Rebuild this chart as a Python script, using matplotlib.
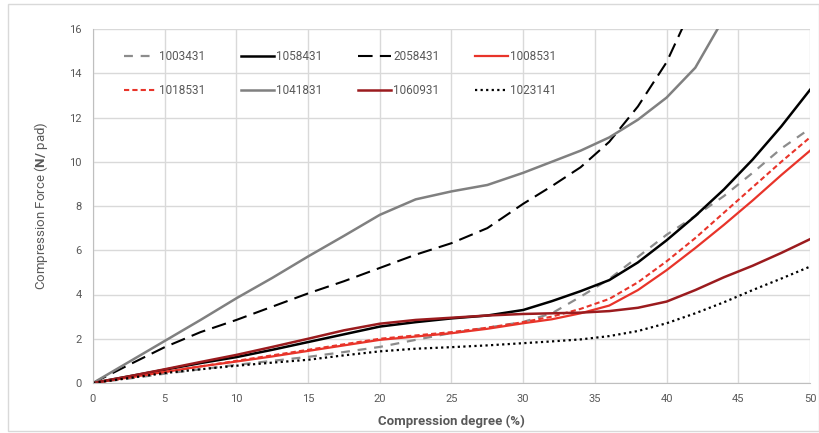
import matplotlib
matplotlib.use('Agg')
import matplotlib.pyplot as plt
from matplotlib.patches import Rectangle

plt.rcParams['font.family'] = ['Roboto', 'DejaVu Sans']
plt.rcParams['mathtext.fontset'] = 'custom'
plt.rcParams['mathtext.bf'] = 'Roboto:bold'
plt.rcParams['mathtext.rm'] = 'Roboto'

# compression degree (%)
x = [0, 2.5, 5, 7.5, 10, 12.5, 15, 17.5, 20, 22.5, 25, 27.5,
     30, 32, 34, 36, 38, 40, 42, 44, 46, 48, 50]

# compression force (N/pad) per sample
f_1003431 = [0, 0.2, 0.42, 0.62, 0.82, 1.0, 1.18, 1.4, 1.63, 1.95, 2.26, 2.5,
             2.76, 3.15, 3.9, 4.7, 5.7, 6.7, 7.55, 8.45, 9.5, 10.6, 11.5]
f_1058431 = [0, 0.3, 0.6, 0.9, 1.17, 1.5, 1.85, 2.2, 2.55, 2.75, 2.92, 3.05,
             3.3, 3.7, 4.15, 4.65, 5.45, 6.45, 7.55, 8.75, 10.1, 11.6, 13.25]
f_2058431 = [0, 0.82, 1.62, 2.3, 2.85, 3.45, 4.05, 4.6, 5.2, 5.8, 6.32, 7.0,
             8.1, 8.9, 9.75, 10.9, 12.5, 14.5, 17.3, 20.0, 23.0, 26.0, 29.0]
f_1008531 = [0, 0.25, 0.5, 0.75, 0.97, 1.2, 1.45, 1.7, 1.95, 2.1, 2.25, 2.45,
             2.7, 2.88, 3.15, 3.5, 4.2, 5.1, 6.1, 7.15, 8.25, 9.4, 10.5]
f_1018531 = [0, 0.25, 0.5, 0.75, 1.0, 1.25, 1.5, 1.75, 2.0, 2.15, 2.3, 2.5,
             2.75, 3.0, 3.35, 3.8, 4.55, 5.5, 6.55, 7.7, 8.85, 10.0, 11.1]
f_1041831 = [0, 0.95, 1.9, 2.85, 3.83, 4.75, 5.72, 6.65, 7.6, 8.3, 8.66, 8.95,
             9.5, 10.0, 10.5, 11.1, 11.9, 12.9, 14.25, 16.5, 19.0, 22.0, 25.0]
f_1060931 = [0, 0.3, 0.62, 0.95, 1.27, 1.63, 2.0, 2.38, 2.68, 2.85, 2.95, 3.05,
             3.12, 3.15, 3.18, 3.25, 3.4, 3.68, 4.2, 4.78, 5.3, 5.88, 6.5]
f_1023141 = [0, 0.22, 0.45, 0.62, 0.78, 0.92, 1.05, 1.25, 1.43, 1.55, 1.62, 1.7,
             1.8, 1.88, 1.97, 2.12, 2.35, 2.7, 3.15, 3.65, 4.2, 4.72, 5.26]

fig = plt.figure(figsize=(8.2, 4.33), dpi=100)
fig.patches.append(Rectangle((8 / 820, 2 / 433), 811 / 820, 427 / 433,
                             transform=fig.transFigure, fill=False,
                             edgecolor='#D9D9D9', linewidth=1))
ax = fig.add_axes([93 / 820, 1 - 383 / 433, 717 / 820, 354 / 433])

ax.plot(x, f_1003431, color='#8C8C8C', lw=1.6, dashes=(4, 3.5), label='1003431')
ax.plot(x, f_1058431, color='#000000', lw=1.8, label='1058431')
ax.plot(x, f_2058431, color='#000000', lw=1.5, dashes=(7, 3.5), label='2058431')
ax.plot(x, f_1008531, color='#E8342A', lw=1.6, label='1008531')
ax.plot(x, f_1018531, color='#E8342A', lw=1.5, dashes=(2.5, 1.5), label='1018531')
ax.plot(x, f_1041831, color='#808080', lw=1.8, label='1041831')
ax.plot(x, f_1060931, color='#9B1B1E', lw=1.8, label='1060931')
ax.plot(x, f_1023141, color='#000000', lw=1.6, dashes=(1, 1.5), label='1023141')

ax.set_xlim(0, 50)
ax.set_ylim(0, 16)
ax.set_xticks(range(0, 51, 5))
ax.set_yticks(range(0, 17, 2))
ax.grid(True, color='#D9D9D9', linewidth=1)
ax.set_axisbelow(True)
for s in ['top', 'right']:
    ax.spines[s].set_visible(False)
for s in ['left', 'bottom']:
    ax.spines[s].set_color('#BFBFBF')
ax.tick_params(length=0, labelsize=8, colors='#595959', pad=8)

ax.set_xlabel('Compression degree (%)', fontsize=9.5, fontweight='bold',
              color='#595959', labelpad=8)
ax.set_ylabel(r'Compression Force ($\bf{N/}$ pad)', fontsize=9.5,
              color='#595959', labelpad=14)

# legend reads row by row, matplotlib fills column by column
handles, labels = ax.get_legend_handles_labels()
order = [0, 4, 1, 5, 2, 6, 3, 7]
leg = ax.legend([handles[i] for i in order], [labels[i] for i in order],
                ncol=4, loc='upper left', bbox_to_anchor=(0.028, 0.97),
                frameon=False, fontsize=8.5, handlelength=2.8,
                handletextpad=0.2, columnspacing=3.0, labelspacing=1.75)
for t in leg.get_texts():
    t.set_color('#595959')

fig.savefig('out.png', dpi=100)
